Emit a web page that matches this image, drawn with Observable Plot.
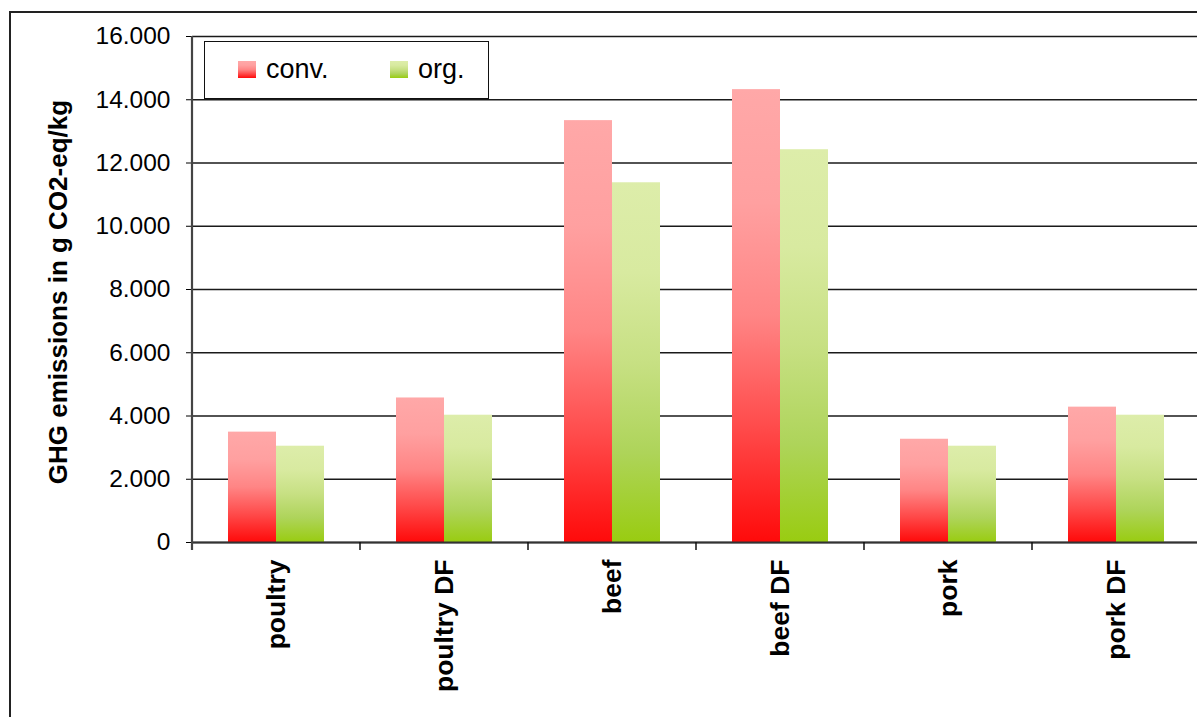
<!DOCTYPE html>
<html>
<head>
<meta charset="utf-8">
<script src="https://cdn.jsdelivr.net/npm/d3@7"></script>
<script src="https://cdn.jsdelivr.net/npm/@observablehq/plot@0.6"></script>
<style>
  html, body { margin: 0; padding: 0; background: #fff; overflow: hidden; }
  #wrap { position: relative; width: 1197px; height: 717px; overflow: hidden; }
  #border { position: absolute; left: 9px; top: 11px; width: 1400px; height: 1000px;
            border-left: 2px solid #222; border-top: 2px solid #222; pointer-events: none; }
  #legend { position: absolute; left: 204px; top: 41px; width: 283px; height: 56px;
            border: 1px solid #111; background: #fff; font-family: "Liberation Sans", Arial, sans-serif;
            font-size: 27px; color: #000; }
  #legend .item { position: absolute; top: 12px; display: flex; align-items: center; }
  #legend .sw { width: 18px; height: 17px; margin-right: 10px; }
</style>
</head>
<body>
<div id="wrap">
  <div id="chart"></div>
  <div id="legend"></div>
  <div id="border"></div>
</div>
<script>
// Product categories along the x axis
const categories = ["poultry", "poultry DF", "beef", "beef DF", "pork", "pork DF"];
// Emissions (g CO2-eq per kg) for conventional and organic production
const convValues = [3490, 4570, 13340, 14320, 3265, 4280];
const orgValues = [3045, 4025, 11375, 12420, 3045, 4025];
const seriesNames = ["conv.", "org."];
// Y axis ticks
const yTicks = [0, 2000, 4000, 6000, 8000, 10000, 12000, 14000, 16000];
const yLabel = "GHG emissions in g CO2-eq/kg";

// Vertical gradient stops (top → bottom) for each series
const gradients = {
  "conv.": [[0, "#ffa8a8"], [0.25, "#ffa0a0"], [0.5, "#ff8585"], [0.75, "#ff4a4a"], [1, "#ff0a0a"]],
  "org.":  [[0, "#ddedaa"], [0.25, "#d8eaa0"], [0.5, "#c7e083"], [0.75, "#aed45a"], [1, "#99cc11"]]
};
const gradId = (s) => "grad-" + seriesNames.indexOf(s);

const rows = categories.flatMap((c, i) => [
  {category: c, series: seriesNames[0], value: convValues[i]},
  {category: c, series: seriesNames[1], value: orgValues[i]}
]);

const locale = d3.formatLocale({decimal: ",", thousands: ".", grouping: [3], currency: ["", ""]});
const fmt = locale.format(",");

// SVG <defs> holding the bar gradients
function gradientDefs() {
  const ns = "http://www.w3.org/2000/svg";
  const defs = document.createElementNS(ns, "defs");
  for (const s of seriesNames) {
    const g = document.createElementNS(ns, "linearGradient");
    g.setAttribute("id", gradId(s));
    g.setAttribute("x1", "0"); g.setAttribute("y1", "0");
    g.setAttribute("x2", "0"); g.setAttribute("y2", "1");
    for (const [o, c] of gradients[s]) {
      const st = document.createElementNS(ns, "stop");
      st.setAttribute("offset", o);
      st.setAttribute("stop-color", c);
      g.appendChild(st);
    }
    defs.appendChild(g);
  }
  return defs;
}

const chart = Plot.plot({
  width: 1197,
  height: 717,
  marginLeft: 190,
  marginRight: -4,
  marginTop: 36,
  marginBottom: 175,
  style: {fontFamily: "'Liberation Sans', Arial, sans-serif", fontSize: "24.5px", color: "#000", background: "transparent"},
  fx: {domain: categories, padding: 0, label: null},
  x: {domain: seriesNames, paddingInner: 0, paddingOuter: 0.74, axis: null},
  y: {domain: [0, 16000], label: null},
  marks: [
    gradientDefs,
    Plot.gridY(yTicks, {stroke: "#1a1a1a", strokeOpacity: 1, strokeWidth: 1.4}),
    Plot.barY(rows, {fx: "category", x: "series", y: "value", fill: (d) => `url(#${gradId(d.series)})`}),
    Plot.ruleY([0], {stroke: "#333", strokeWidth: 2}),
    Plot.axisY(yTicks, {
      tickFormat: fmt, tickSize: 6, tickPadding: 16, stroke: "#000",
      fontSize: 24.5, label: null
    }),
    Plot.axisFx({
      anchor: "bottom", tickRotate: -90, tickSize: 0, tickPadding: 17, label: null,
      fontSize: 26.5, fontWeight: "bold", fontFamily: "'Liberation Sans', Arial, sans-serif"
    })
  ]
});
document.getElementById("chart").appendChild(chart);

// Y axis line, category separator ticks and axis title
{
  const svg = d3.select(chart);
  const fx = chart.scale("fx");
  const y = chart.scale("y");
  const y0 = y.apply(0), yTop = y.apply(16000);
  const x0 = fx.apply(categories[0]);
  const g = svg.append("g");
  g.append("line").attr("x1", x0).attr("x2", x0).attr("y1", yTop).attr("y2", y0 + 8)
    .attr("stroke", "#444").attr("stroke-width", 2.2);
  const edges = categories.map((c) => fx.apply(c)).concat([fx.apply(categories.at(-1)) + fx.bandwidth]);
  g.selectAll(".sep").data(edges.slice(1)).join("line")
    .attr("x1", (d) => d).attr("x2", (d) => d).attr("y1", y0).attr("y2", y0 + 8)
    .attr("stroke", "#111").attr("stroke-width", 1.5);
  g.append("text")
    .attr("transform", `translate(67,${(y0 + yTop) / 2 + 3}) rotate(-90)`)
    .attr("text-anchor", "middle")
    .attr("font-family", "'Liberation Sans', Arial, sans-serif")
    .attr("font-size", 26).attr("font-weight", "bold").attr("fill", "#000")
    .text(yLabel);
}

// Legend
{
  const legend = d3.select("#legend");
  const lefts = [33, 185];
  seriesNames.forEach((s, i) => {
    const item = legend.append("div").attr("class", "item").style("left", lefts[i] + "px");
    const stops = gradients[s].map(([o, c]) => `${c} ${o * 100}%`).join(", ");
    item.append("div").attr("class", "sw").style("background", `linear-gradient(to bottom, ${stops})`);
    item.append("span").text(s);
  });
}
</script>
</body>
</html>
